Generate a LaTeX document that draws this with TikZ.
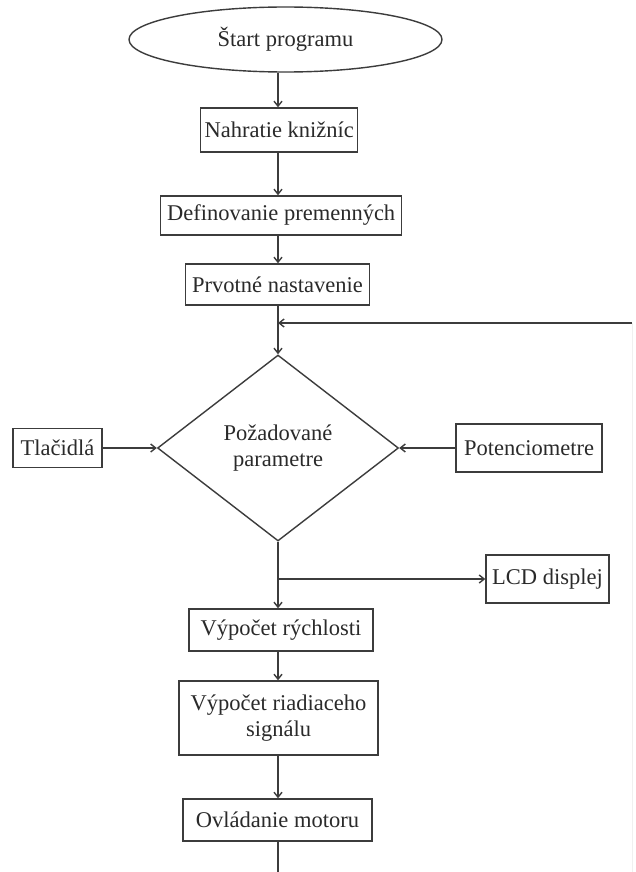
\documentclass[tikz,border=0pt]{standalone}
\usepackage{fontspec}
\setmainfont{Liberation Serif}
\usetikzlibrary{shapes.geometric,arrows.meta}
\definecolor{ln}{HTML}{3C3C3C}
\definecolor{tx}{HTML}{2A2A2A}
\begin{document}
\begin{tikzpicture}[x=1pt,y=-1pt,
  every node/.style={font=\fontsize{22.5}{26}\selectfont, text=tx},
  box/.style={draw=ln, line width=1.4pt, rectangle, inner sep=0pt, align=center},
  flow/.style={draw=ln, line width=1.4pt, -{Straight Barb[length=5pt,width=8pt]}},
  plain/.style={draw=ln, line width=1.4pt}]
\useasboundingbox (0,0) rectangle (635,872);
\fill[white] (0,0) rectangle (635,872);
\coordinate (ax) at (278,0);

\node[draw=ln, line width=1.4pt, ellipse, minimum width=313pt, minimum height=65pt, inner sep=0pt] (start) at (285.5,39.5) {Štart programu};
\node[box, minimum width=157pt, minimum height=44pt] (lib) at (279.2,130) {Nahratie knižníc};
\node[box, minimum width=241pt, minimum height=39pt] (def) at (281.2,215.5) {Definovanie premenných};
\node[box, minimum width=184pt, minimum height=41pt] (init) at (277.5,284.5) {Prvotné nastavenie};
\node[draw=ln, line width=1.4pt, diamond, minimum width=241pt, minimum height=186pt, inner sep=0pt, align=center] (dec) at (278,448) {Požadované\\parametre};
\node[box, minimum width=89pt, minimum height=39pt] (tl) at (57.5,448) {Tlačidlá};
\node[box, minimum width=146pt, minimum height=48pt] (pot) at (529,448) {Potenciometre};
\node[box, minimum width=123pt, minimum height=48pt] (lcd) at (547.5,579) {LCD displej};
\node[box, minimum width=184pt, minimum height=42pt] (vr) at (281,630) {Výpočet rýchlosti};
\node[box, minimum width=199pt, minimum height=74pt] (vs) at (278.5,718) {Výpočet riadiaceho\\signálu};
\node[box, minimum width=189pt, minimum height=42pt] (om) at (277.5,820) {Ovládanie motoru};

\coordinate (loopR) at (632,323);
\coordinate (loopJ) at (278,323);
\coordinate (lcdJ) at (278,579);
\coordinate (endB) at (278,872);
\coordinate (loopB) at (632,872);

\draw[flow] (start.south -| ax) -- (lib.north -| ax);
\draw[flow] (lib.south -| ax) -- (def.north -| ax);
\draw[flow] (def.south -| ax) -- (init.north -| ax);
\draw[flow] (init.south -| ax) -- (dec.north);
\draw[flow] (loopR) -- (loopJ);
\draw[draw=black!6, line width=1pt] (loopR) -- (loopB);
\draw[flow] (tl.east) -- (dec.west);
\draw[flow] (pot.west) -- (dec.east);
\draw[flow] (dec.south) -- (vr.north -| ax);
\draw[flow] (lcdJ) -- (lcd.west);
\draw[flow] (vr.south -| ax) -- (vs.north -| ax);
\draw[flow] (vs.south -| ax) -- (om.north -| ax);
\draw[plain] (om.south -| ax) -- (endB);
\end{tikzpicture}
\end{document}
